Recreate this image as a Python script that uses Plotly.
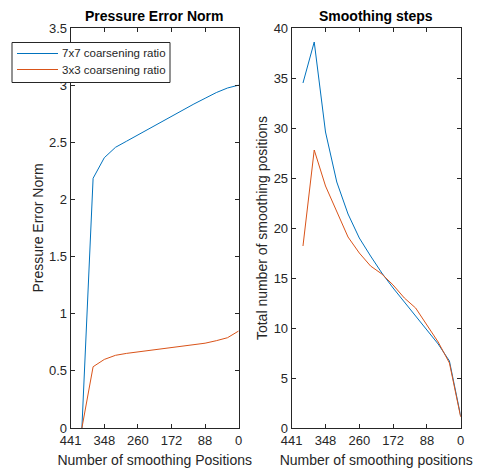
import plotly.graph_objects as go

# smoothing-step index (x axis drawn by index, labelled with smoothing positions)
step_index = list(range(1, 16))
tick_index = [0, 3, 6, 9, 12, 15]
tick_labels = ["441", "348", "260", "172", "88", "0"]

series_names = ["7x7 coarsening ratio", "3x3 coarsening ratio"]

# Pressure error norm
err_7x7 = [0.0, 2.185, 2.365, 2.456, 2.51, 2.565, 2.62, 2.675, 2.73, 2.78, 2.835, 2.885, 2.935, 2.975, 3.0]
err_3x3 = [0.0, 0.536, 0.60, 0.636, 0.653, 0.665, 0.678, 0.69, 0.703, 0.716, 0.728, 0.742, 0.764, 0.79, 0.849]

# Total number of smoothing positions
steps_7x7 = [34.5, 38.6, 29.6, 24.6, 21.4, 19.0, 17.2, 15.5, 14.0, 12.6, 11.3, 9.9, 8.4, 6.7, 1.2]
steps_3x3 = [18.2, 27.8, 24.2, 21.6, 19.1, 17.5, 16.2, 15.4, 14.3, 13.0, 12.0, 10.3, 8.6, 6.5, 1.1]

colors = ["#0072BD", "#D95319"]
ink = "#262626"
font = "Liberation Sans, Arial, sans-serif"

W, H = 480, 468
MT, MB = 28, 40
PH = H - MT - MB


def px_x(px):
    return px / W


def px_y(py):
    return (H - MB - py) / PH


fig = go.Figure()
fig.add_trace(go.Scatter(x=step_index, y=err_7x7, mode="lines", name=series_names[0],
                         line=dict(color=colors[0], width=1), xaxis="x", yaxis="y"))
fig.add_trace(go.Scatter(x=step_index, y=err_3x3, mode="lines", name=series_names[1],
                         line=dict(color=colors[1], width=1), xaxis="x", yaxis="y"))
fig.add_trace(go.Scatter(x=step_index, y=steps_7x7, mode="lines", name=series_names[0],
                         line=dict(color=colors[0], width=1), xaxis="x2", yaxis="y2"))
fig.add_trace(go.Scatter(x=step_index, y=steps_3x3, mode="lines", name=series_names[1],
                         line=dict(color=colors[1], width=1), xaxis="x2", yaxis="y2"))

common_x = dict(range=[0, 15], tickmode="array", tickvals=tick_index, ticktext=tick_labels,
                showline=True, linecolor=ink, linewidth=1, mirror="allticks",
                ticks="inside", ticklen=4, tickcolor=ink, showgrid=False, zeroline=False,
                automargin=False,
                tickfont=dict(family=font, size=13, color=ink),
                title=dict(font=dict(family=font, size=14, color=ink), standoff=8))
common_y = dict(showline=True, linecolor=ink, linewidth=1, mirror="allticks",
                ticks="inside", ticklen=4, tickcolor=ink, showgrid=False, zeroline=False,
                automargin=False,
                tickfont=dict(family=font, size=13, color=ink),
                title=dict(font=dict(family=font, size=14, color=ink), standoff=2))

# legend drawn as a box with line samples and text labels (MATLAB-style compact legend)
leg_box = dict(x0=12, x1=170, y0=42.5, y1=82.5)
leg_rows = [53.5, 69.5]
shapes = [dict(type="rect", xref="paper", yref="paper",
               x0=px_x(leg_box["x0"]), x1=px_x(leg_box["x1"]),
               y0=px_y(leg_box["y1"]), y1=px_y(leg_box["y0"]),
               line=dict(color=ink, width=1), fillcolor="white", layer="above")]
annotations = []
for name, col, ry in zip(series_names, colors, leg_rows):
    shapes.append(dict(type="line", xref="paper", yref="paper",
                       x0=px_x(17), x1=px_x(58), y0=px_y(ry), y1=px_y(ry),
                       line=dict(color=col, width=1), layer="above"))
    annotations.append(dict(text=name, xref="paper", yref="paper",
                            x=px_x(60), y=px_y(ry), xanchor="left", yanchor="middle",
                            showarrow=False,
                            font=dict(family=font, size=11.5, color=ink)))

annotations += [
    dict(text="<b>Pressure Error Norm</b>", xref="paper", yref="paper",
         x=(70.7 + 238.7) / 2 / W, y=1, xanchor="center", yanchor="bottom",
         yshift=2, showarrow=False,
         font=dict(family=font, size=14, color="black")),
    dict(text="<b>Smoothing steps</b>", xref="paper", yref="paper",
         x=(291.7 + 460.7) / 2 / W, y=1, xanchor="center", yanchor="bottom",
         yshift=2, showarrow=False,
         font=dict(family=font, size=14, color="black")),
]

fig.update_layout(
    width=W, height=H,
    margin=dict(l=0, r=0, t=MT, b=MB, autoexpand=False),
    paper_bgcolor="white", plot_bgcolor="white",
    font=dict(family=font, color=ink),
    showlegend=False,
    xaxis=dict(common_x, domain=[70.7 / W, 238.7 / W], anchor="y",
               title=dict(common_x["title"], text="Number of smoothing Positions")),
    yaxis=dict(common_y, domain=[0, 1], anchor="x", range=[0, 3.5], dtick=0.5,
               title=dict(common_y["title"], text="Pressure Error Norm")),
    xaxis2=dict(common_x, domain=[291.7 / W, 460.7 / W], anchor="y2",
                title=dict(common_x["title"], text="Number of smoothing positions")),
    yaxis2=dict(common_y, domain=[0, 1], anchor="x2", range=[0, 40], dtick=5,
                title=dict(common_y["title"], text="Total number of smoothing positions")),
    shapes=shapes,
    annotations=annotations,
)

fig.write_html("out.html")
